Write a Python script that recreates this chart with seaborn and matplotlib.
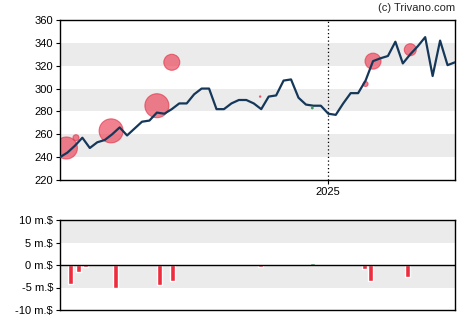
import matplotlib
matplotlib.use("Agg")
import matplotlib.pyplot as plt
import matplotlib.dates as mdates
import seaborn as sns
import pandas as pd
import numpy as np

# ---- data ----
start_date = "2024-04-24"
prices = [240, 244, 250, 257, 248, 253, 255, 260, 266, 259, 265, 271, 272, 279,
          278, 282, 287, 287, 295, 300, 300, 282, 282, 287, 290, 290, 287, 282,
          293, 294, 307, 308, 292, 286, 285, 285, 278, 277, 287, 296, 296, 307,
          324, 326.5, 328.5, 341, 322, 330, 337, 345, 311, 342, 320.5, 323]

trade_dates = ["2024-04-30", "2024-05-09", "2024-06-11", "2024-07-24", "2024-08-07",
               "2024-10-29", "2025-02-05", "2025-02-12", "2025-03-19"]
trade_prices = [248, 257, 263, 285, 323, 293, 304, 324, 334]
trade_radius = [11, 3, 12, 12, 8, 0.7, 2.5, 8, 6]

buy_dates = ["2024-12-17"]
buy_prices = [283]

flow_dates = ["2024-05-04", "2024-05-11", "2024-05-18", "2024-06-15", "2024-07-26",
              "2024-08-08", "2024-10-29", "2024-12-17", "2025-02-04", "2025-02-10",
              "2025-03-16"]
flow_values = [-4.2, -1.5, -0.4, -5.0, -4.4, -3.5, -0.35, 0.4, -0.9, -3.5, -2.7]

price_ticks = [220, 240, 260, 280, 300, 320, 340, 360]
flow_ticks = [-10, -5, 0, 5, 10]
flow_labels = ["-10 m.$", "-5 m.$", "0 m.$", "5 m.$", "10 m.$"]
year_mark = "2025-01-01"

# ---- frames ----
dates = pd.date_range(start_date, periods=len(prices), freq="7D")
df = pd.DataFrame({"date": dates, "price": prices})
tr = pd.DataFrame({"date": pd.to_datetime(trade_dates), "price": trade_prices,
                   "size": [(2 * r * 0.72) ** 2 for r in trade_radius]})
bu = pd.DataFrame({"date": pd.to_datetime(buy_dates), "price": buy_prices})
fl = pd.DataFrame({"date": pd.to_datetime(flow_dates), "value": flow_values})

sns.set_style("white")
plt.rcParams["font.family"] = ["Liberation Sans", "DejaVu Sans"]
plt.rcParams["font.size"] = 8

fig = plt.figure(figsize=(4.7, 3.25), dpi=100)
ax = fig.add_axes([60 / 470, 1 - 180 / 325, 395 / 470, 160 / 325])
ax2 = fig.add_axes([60 / 470, 1 - 310 / 325, 395 / 470, 90 / 325])

band = "#ebebeb"
for lo in (240, 280, 320):
    ax.axhspan(lo, lo + 20, color=band, lw=0, zorder=0)

xmin, xmax = dates[0], dates[-1]

sns.scatterplot(data=tr, x="date", y="price", size="size", sizes=(tr["size"].min(), tr["size"].max()),
                ax=ax, color="#ea3e52", alpha=0.65, edgecolor="#e33249", linewidth=0.8,
                legend=False, zorder=2.5)
sns.lineplot(data=df, x="date", y="price", ax=ax, color="#15385a", lw=1.6, zorder=3)
sns.scatterplot(data=bu, x="date", y="price", ax=ax, color="#3a9a5a", s=4,
                edgecolor="none", legend=False, zorder=4)

ax.axvline(pd.Timestamp(year_mark), color="black", lw=0.9, ls=(0, (1, 2)), zorder=2)
ax.set_xlim(xmin, xmax)
ax.set_ylim(220, 360)
ax.set_yticks(price_ticks)
ax.set_xticks([pd.Timestamp(year_mark)])
ax.xaxis.set_major_formatter(mdates.DateFormatter("%Y"))
ax.set_xlabel("")
ax.set_ylabel("")
ax.tick_params(axis="both", direction="out", length=3, width=0.8, colors="black",
               labelsize=8, pad=2, left=True, bottom=True)
for s in ax.spines.values():
    s.set_color("black")
    s.set_linewidth(1)

# lower panel
ax2.axhspan(5, 10, color=band, lw=0, zorder=0)
ax2.axhspan(-5, 0, color=band, lw=0, zorder=0)
colors = ["#2e8b57" if v > 0 else "#ee2c3e" for v in fl["value"]]
ax2.bar(fl["date"], fl["value"], width=4.7, color=colors, zorder=2)
ax2.axhline(0, color="black", lw=1, zorder=3)
ax2.set_xlim(xmin, xmax)
ax2.set_ylim(-10, 10)
ax2.set_yticks(flow_ticks)
ax2.set_yticklabels(flow_labels)
ax2.set_xticks([])
ax2.tick_params(axis="y", direction="out", length=3, width=0.8, colors="black",
                labelsize=8, pad=2, left=True)
for s in ax2.spines.values():
    s.set_color("black")
    s.set_linewidth(1)

fig.text(455 / 470, 1 - 8 / 325, "(c) Trivano.com", ha="right", va="center", fontsize=8)

fig.savefig("out.png", dpi=100)
